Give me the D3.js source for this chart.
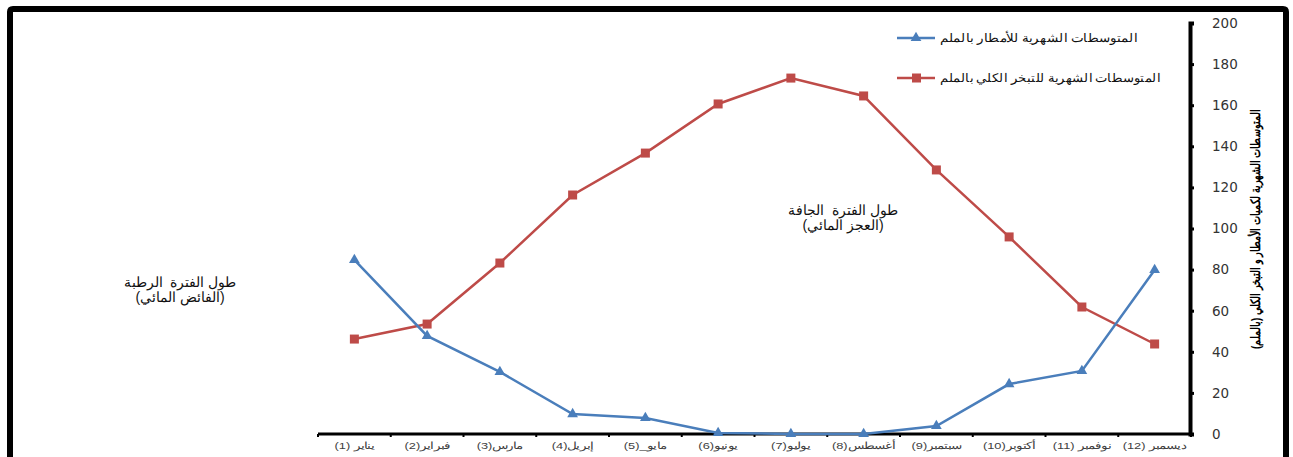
<!DOCTYPE html>
<html>
<head>
<meta charset="utf-8">
<script src="https://cdn.jsdelivr.net/npm/d3@7"></script>
<style>
  body { margin: 0; background: #fff; }
  svg { display: block; font-family: "Liberation Sans", Arial, sans-serif; }
</style>
</head>
<body>
<svg id="chart" width="1293" height="457"></svg>
<script>
// month labels (Arabic, as in the original)
const months = ["يناير (1)", "فبراير(2)", "مارس(3)", "إبريل(4)", "مايو_(5)", "يونيو(6)",
                "يوليو(7)", "أغسطس(8)", "سبتمبر(9)", "أكتوبر(10)", "نوفمبر (11)", "ديسمبر (12)"];

// monthly means, mm
const rainfall = [84.7, 47.7, 30.2, 9.7, 7.8, 0.5, 0, 0, 3.9, 24.3, 30.7, 79.8];
const evaporation = [46.2, 53.5, 83.2, 116.3, 136.7, 160.6, 173.2, 164.5, 128.5, 95.9, 61.8, 43.8];

const yTicks = [0, 20, 40, 60, 80, 100, 120, 140, 160, 180, 200];

const rainName = "المتوسطات الشهرية للأمطار بالملم";
const evapName = "المتوسطات الشهرية للتبخر الكلي بالملم";
const yTitle = "المتوسطات الشهرية لكميات الأمطار و التبخر الكلي (بالملم)";

const blue = "#4a7ebb";
const red = "#be4b48";

const svg = d3.select("#chart");

// outer frame (thick black border)
svg.append("path")
    .attr("d", "M10,457 L10,12 Q10,9 13,9 L1283,9 Q1286,9 1286,12 L1286,457")
    .attr("fill", "none")
    .attr("stroke", "black")
    .attr("stroke-width", 6);

// scales
const x = d3.scaleBand().domain(months).range([318, 1191]);
const y = d3.scaleLinear().domain([0, 200]).range([434, 23]);
const cx = d => x(d) + x.bandwidth() / 2;

// x axis
const xAxis = svg.append("g").attr("transform", "translate(0,434)");
xAxis.append("line")
    .attr("x1", 318).attr("x2", 1191)
    .attr("stroke", "black").attr("stroke-width", 3);
xAxis.selectAll(".tk")
    .data(months.concat(["end"]))
    .enter().append("line")
    .attr("x1", d => d == "end" ? 1191 : x(d))
    .attr("x2", d => d == "end" ? 1191 : x(d))
    .attr("y1", 0).attr("y2", 3)
    .attr("stroke", "black").attr("stroke-width", 2);
// labels are stretched sideways like the original
xAxis.selectAll(".lbl")
    .data(months)
    .enter().append("text")
    .attr("transform", d => `translate(${cx(d)},15) scale(1.35,1)`)
    .attr("text-anchor", "middle")
    .attr("direction", "rtl")
    .style("font-size", "9.5px")
    .style("fill", "#404040")
    .text(d => d);

// y axis on the right
const yAxis = svg.append("g")
    .attr("transform", "translate(1190,0)")
    .call(d3.axisRight(y).tickValues(yTicks).tickSize(4).tickPadding(18));
yAxis.select(".domain").attr("stroke-width", 4);
yAxis.selectAll(".tick line").attr("stroke-width", 3);
yAxis.selectAll(".tick text")
    .style("font-family", "'DejaVu Sans', sans-serif")
    .style("font-size", "13.5px")
    .style("fill", "#333");

// y title
svg.append("text")
    .attr("transform", "translate(1260,229) rotate(-90)")
    .attr("text-anchor", "middle")
    .attr("textLength", 240)
    .attr("lengthAdjust", "spacingAndGlyphs")
    .style("font-size", "13px")
    .style("font-weight", "bold")
    .text(yTitle);

// lines
const line = d3.line()
    .x((d, i) => cx(months[i]))
    .y(d => y(d));

svg.append("path").datum(evaporation)
    .attr("fill", "none").attr("stroke", red).attr("stroke-width", 2.5)
    .attr("d", line);
svg.append("path").datum(rainfall)
    .attr("fill", "none").attr("stroke", blue).attr("stroke-width", 2.5)
    .attr("d", line);

// markers
svg.selectAll(".sq")
    .data(evaporation)
    .enter().append("rect")
    .attr("x", (d, i) => cx(months[i]) - 4.5)
    .attr("y", d => y(d) - 4.5)
    .attr("width", 9).attr("height", 9)
    .attr("fill", red);

const tri = d3.symbol().type(d3.symbolTriangle).size(50);
svg.selectAll(".tri")
    .data(rainfall)
    .enter().append("path")
    .attr("d", tri)
    .attr("transform", (d, i) => `translate(${cx(months[i])},${y(d)})`)
    .attr("fill", blue);

// legend
const legend = [
    { name: rainName, color: blue, marker: "tri", y: 38, len: 197 },
    { name: evapName, color: red, marker: "sq", y: 78, len: 220 }
];
legend.forEach(function(l) {
    svg.append("line")
        .attr("x1", 897).attr("x2", 935)
        .attr("y1", l.y).attr("y2", l.y)
        .attr("stroke", l.color).attr("stroke-width", 2.5);
    if (l.marker == "sq") {
        svg.append("rect")
            .attr("x", 912).attr("y", l.y - 4.5)
            .attr("width", 9).attr("height", 9)
            .attr("fill", l.color);
    } else {
        svg.append("path")
            .attr("d", tri)
            .attr("transform", `translate(916,${l.y})`)
            .attr("fill", l.color);
    }
    svg.append("text")
        .attr("x", 940).attr("y", l.y + 4)
        .attr("textLength", l.len)
        .attr("lengthAdjust", "spacingAndGlyphs")
        .style("font-size", "11.5px")
        .style("fill", "#111")
        .text(l.name);
});

// annotations
const notes = [
    { lines: ["طول الفترة  الجافة", "(العجز المائي)"], x: 843, y: 215 },
    { lines: ["طول الفترة  الرطبة", "(الفائض المائي)"], x: 180, y: 287 }
];
notes.forEach(function(n) {
    n.lines.forEach(function(t, i) {
        svg.append("text")
            .attr("x", n.x).attr("y", n.y + i * 15)
            .attr("text-anchor", "middle")
            .attr("direction", "rtl")
            .style("white-space", "pre")
            .style("font-size", "14px")
            .style("fill", "#111")
            .text(t);
    });
});
</script>
</body>
</html>
